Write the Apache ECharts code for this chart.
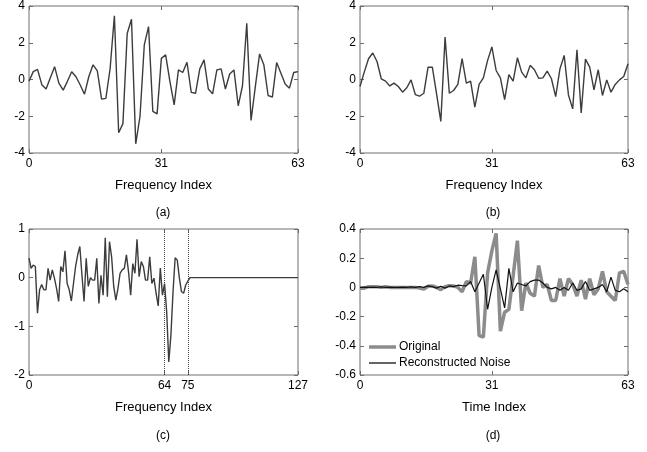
<!DOCTYPE html>
<html>
<head>
<meta charset="utf-8">
<script src="https://cdn.jsdelivr.net/npm/echarts@6/dist/echarts.min.js"></script>
<style>
  html, body { margin: 0; padding: 0; background: #fff; }
  #chart { width: 647px; height: 452px; }
</style>
</head>
<body>
<div id="chart"></div>
<script>
// values
const freqA = [-0.1, 0.43, 0.55, -0.28, -0.52, 0.1, 0.7, -0.2, -0.58, -0.1,
  0.42, 0.15, -0.3, -0.8, 0.15, 0.8, 0.47, -1.07, -1.03, 0.6,
  3.47, -2.9, -2.4, 2.5, 3.28, -3.5, -2.0, 1.88, 2.88, -1.74,
  -1.87, 1.15, 1.34, -0.1, -1.38, 0.52, 0.38, 0.94, -0.7, -0.75,
  0.58, 1.07, -0.52, -0.78, 0.52, 0.58, -0.52, 0.3, 0.52, -1.43,
  -0.34, 3.06, -2.23, -0.4, 1.39, 0.8, -0.87, -0.96, 0.92, 0.34,
  -0.24, -0.47, 0.38, 0.43]
const freqB = [-0.38, 0.4, 1.13, 1.44, 0.98, 0.04, -0.09, -0.35, -0.2, -0.38,
  -0.69, -0.45, -0.02, -0.82, -0.91, -0.75, 0.67, 0.67, -0.78, -2.28,
  2.31, -0.75, -0.6, -0.27, 1.13, -0.2, -0.09, -1.51, -0.27, 0.09,
  1.04, 1.77, 0.49, 0.09, -1.09, 0.27, -0.09, 1.18, 0.4, 0.09,
  0.77, 0.53, 0.07, 0.09, 0.46, 0.04, -0.93, 0.58, 1.31, -0.84,
  -1.6, 1.62, -1.82, 1.11, 0.67, -0.56, 0.53, -0.87, -0.02, -0.69,
  -0.27, -0.02, 0.16, 0.86]
const freqC = [0.4, 0.19, 0.26, 0.23, -0.73, -0.25, -0.14, -0.25, -0.25, 0.19,
  -0.05, 0.16, -0.01, -0.22, -0.49, 0.23, 0.12, 0.55, -0.12, -0.25,
  -0.48, -0.12, 0.23, 0.47, 0.64, 0.05, -0.49, 0.4, -0.18, 0.0,
  -0.05, -0.05, 0.4, -0.53, 0.05, -0.36, 0.82, -0.39, 0.74, 0.43,
  -0.18, -0.46, -0.22, 0.09, 0.16, 0.19, 0.47, 0.12, -0.36, 0.29,
  0.09, 0.79, 0.02, 0.33, 0.23, -0.05, -0.05, 0.43, -0.12, -0.01,
  -0.32, -0.58, 0.2, -0.36, -0.12, -0.7, -1.73, -1.18, -0.29, 0.41,
  0.36, -0.01, -0.29, -0.32, -0.15, -0.07, 0, 0, 0, 0,
  0, 0, 0, 0, 0, 0, 0, 0, 0, 0,
  0, 0, 0, 0, 0, 0, 0, 0, 0, 0,
  0, 0, 0, 0, 0, 0, 0, 0, 0, 0,
  0, 0, 0, 0, 0, 0, 0, 0, 0, 0,
  0, 0, 0, 0, 0, 0, 0, 0]
const timeOriginal = [-0.005, -0.005, 0.005, 0.005, 0.005, 0.0, 0.005, 0.0, 0.0, 0.0,
  0.0, 0.0, 0.0, 0.0, -0.005, -0.012, 0.008, 0.01, 0.0, -0.015,
  0.005, 0.012, 0.01, 0.0, -0.03, 0.04, 0.03, 0.21, -0.33, -0.34,
  0.1, 0.25, 0.37, -0.3, -0.17, -0.15, 0.08, 0.32, -0.16, 0.03,
  -0.04, -0.06, 0.15, 0.0, 0.02, -0.09, -0.09, 0.06, -0.06, 0.06,
  0.02, -0.06, 0.05, -0.08, 0.06, -0.05, -0.01, 0.11, -0.03, -0.06,
  -0.09, 0.1, 0.11, 0.02]
const timeNoise = [0.0, 0.002, 0.0, 0.002, 0.0, 0.003, 0.0, 0.002, 0.0, 0.0,
  0.002, 0.0, 0.003, 0.0, 0.005, 0.0, 0.01, 0.005, -0.005, 0.008,
  -0.005, 0.01, 0.005, 0.015, 0.012, 0.01, 0.04, -0.03, 0.03, 0.09,
  -0.15, 0.0, 0.12, -0.01, -0.14, 0.13, -0.03, 0.03, 0.02, 0.01,
  0.04, 0.05, 0.05, 0.03, 0.0, -0.01, 0.0, -0.02, 0.0, -0.02,
  0.03, -0.02, -0.01, 0.04, -0.02, -0.01, 0.0, 0.02, -0.03, 0.07,
  -0.02, -0.03, -0.01, -0.03]

const ticks63 = [0, 31, 63]
const ticks127 = [0, 64, 75, 127]
const cutoffs = [64, 75]
const panelNames = ['(a)', '(b)', '(c)', '(d)']

const FONT = 'Liberation Sans, Arial, sans-serif'
const frameColor = '#6e6e6e'
const lineColor = '#3c3c3c'
const origColor = '#8c8c8c'
const noiseColor = '#111'

// plot boxes, left/top/width/height
const boxes = [
    { left: 29, top: 6, width: 269, height: 147 },
    { left: 360, top: 6, width: 268, height: 147 },
    { left: 29, top: 229, width: 269, height: 146 },
    { left: 360, top: 229, width: 268, height: 146 }
]
const xSetup = [
    { max: 63, ticks: ticks63, name: 'Frequency Index' },
    { max: 63, ticks: ticks63, name: 'Frequency Index' },
    { max: 127, ticks: ticks127, name: 'Frequency Index' },
    { max: 63, ticks: ticks63, name: 'Time Index' }
]
const ySetup = [
    { min: -4, max: 4, interval: 2 },
    { min: -4, max: 4, interval: 2 },
    { min: -2, max: 1, interval: 1 },
    { min: -0.6, max: 0.4, interval: 0.2 }
]

const toPairs = arr => arr.map((v, i) => [i, v])

const grids = boxes.map(b => ({
    ...b, show: true, borderColor: frameColor, borderWidth: 1, containLabel: false
}))

const xAxes = []
const yAxes = []
boxes.forEach((b, k) => {
    const xs = xSetup[k]
    const tick = { inside: true, length: 4, customValues: xs.ticks, lineStyle: { color: frameColor } }
    xAxes.push({
        gridIndex: k, type: 'value', min: 0, max: xs.max, position: 'bottom',
        axisLine: { show: false, onZero: false },
        axisTick: tick,
        axisLabel: { customValues: xs.ticks, color: '#000', fontSize: 12, fontFamily: FONT, margin: 5 },
        splitLine: { show: false },
        name: xs.name, nameLocation: 'middle', nameGap: 26,
        nameTextStyle: { color: '#000', fontSize: 13, fontFamily: FONT }
    })
    const ys = ySetup[k]
    const ytick = { inside: true, length: 4, lineStyle: { color: frameColor } }
    yAxes.push({
        gridIndex: k, type: 'value', min: ys.min, max: ys.max, interval: ys.interval, position: 'left',
        axisLine: { show: false, onZero: false },
        axisTick: ytick,
        axisLabel: { color: '#000', fontSize: 12, fontFamily: FONT, margin: 4 },
        splitLine: { show: false }
    })
    // mirrored ticks on the top and right edges
    xAxes.push({
        gridIndex: k, type: 'value', min: 0, max: xs.max, position: 'top',
        axisLine: { show: false, onZero: false }, axisTick: tick,
        axisLabel: { show: false }, splitLine: { show: false }
    })
    yAxes.push({
        gridIndex: k, type: 'value', min: ys.min, max: ys.max, interval: ys.interval, position: 'right',
        axisLine: { show: false, onZero: false }, axisTick: ytick,
        axisLabel: { show: false }, splitLine: { show: false }
    })
})

const plainLine = (k, data, extra) => ({
    type: 'line', xAxisIndex: k * 2, yAxisIndex: k * 2,
    data: toPairs(data), symbol: 'none', showSymbol: false,
    lineStyle: { color: lineColor, width: 1.4 },
    itemStyle: { color: lineColor },
    silent: true,
    ...extra
})

const series = [
    plainLine(0, freqA),
    plainLine(1, freqB),
    plainLine(2, freqC, {
        markLine: {
            silent: true, symbol: 'none', label: { show: false },
            lineStyle: { type: 'dotted', color: '#444', width: 1 },
            data: cutoffs.map(v => ({ xAxis: v }))
        }
    }),
    plainLine(3, timeOriginal, {
        name: 'Original',
        lineStyle: { color: origColor, width: 3.5 },
        itemStyle: { color: origColor }
    }),
    plainLine(3, timeNoise, {
        name: 'Reconstructed Noise',
        lineStyle: { color: noiseColor, width: 1.2 },
        itemStyle: { color: noiseColor }
    })
]

const legendItem = (name, top, thick) => ({
    data: [{ name: name, icon: 'rect' }],
    orient: 'vertical', left: 369, top: top,
    itemWidth: 27, itemHeight: thick, padding: 0,
    textStyle: { color: '#000', fontSize: 12, fontFamily: FONT, padding: [0, 0, 0, -2] },
    selectedMode: false
})

const labelPos = [[163, 207], [493, 207], [163, 430], [493, 430]]

const chart = echarts.init(document.getElementById('chart'))
chart.setOption({
    animation: false,
    backgroundColor: '#fff',
    grid: grids,
    xAxis: xAxes,
    yAxis: yAxes,
    legend: [
        legendItem('Original', 341, 3.5),
        legendItem('Reconstructed Noise', 357, 1.3)
    ],
    graphic: panelNames.map((t, k) => ({
        type: 'text', x: labelPos[k][0], y: labelPos[k][1],
        style: { text: t, fill: '#000', font: '12px ' + FONT, textAlign: 'center' }
    })),
    series: series
})
</script>
</body>
</html>
